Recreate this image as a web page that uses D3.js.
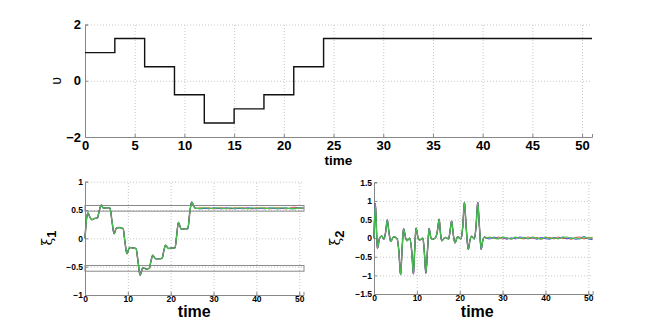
<!doctype html>
<html>
<head>
<style>
    body { margin: 0; background: #fff; }
    text { font-family: "Liberation Sans", Arial, sans-serif; }
    .tick text { font-weight: bold; fill: #000; }
    .grid line { stroke: #c8c8c8; stroke-dasharray: 1,2; }
    .grid .domain { display: none; }
</style>
<script src="https://d3js.org/d3.v7.min.js"></script>
</head>
<body>
<svg id="chart" width="654" height="332"></svg>
<script>
// control input u (step values, held until next time)
var uTime  = [0, 3, 6, 9, 12, 15, 18, 21, 24, 51];
var uValue = [1, 1.5, 0.5, -0.5, -1.5, -1, -0.5, 0.5, 1.5, 1.5];

// xi1 transient (all three runs overlap here)
var xi1Time = [0, 0.3, 0.7, 1.1, 1.6, 2.2, 2.9, 3.3, 3.8, 4.3, 5.0, 5.8, 6.3, 6.8, 7.3, 8.0, 8.9,
    9.3, 9.8, 10.4, 11.2, 11.9, 12.4, 12.85, 13.5, 14.3, 15.0, 15.4, 15.8, 16.5, 17.3, 18.0,
    18.4, 18.8, 19.5, 20.3, 21.0, 21.4, 21.8, 22.5, 23.3, 24.0, 24.4, 24.9, 25.6, 26.0];
var xi1Value = [0, 0.3, 0.45, 0.38, 0.33, 0.35, 0.36, 0.48, 0.59, 0.53, 0.54, 0.54, 0.3, 0.08, 0.18, 0.19, 0.17,
    -0.05, -0.27, -0.16, -0.17, -0.18, -0.42, -0.65, -0.52, -0.54, -0.53, -0.4, -0.3, -0.36, -0.36, -0.35,
    -0.22, -0.12, -0.18, -0.17, -0.17, 0.05, 0.28, 0.16, 0.17, 0.17, 0.42, 0.64, 0.54, 0.53];

// xi2 transient
var xi2Time = [0, 0.3, 0.8, 1.3, 1.8, 2.3, 2.7, 3.1, 3.5, 3.9, 4.6, 5.4, 5.8, 6.2, 6.6, 6.9, 7.4, 7.7,
    8.3, 8.8, 9.2, 9.5, 9.8, 10.3, 10.6, 11.4, 11.7, 12.1, 12.5, 12.85, 13.3, 13.6, 14.4, 14.8,
    15.2, 15.5, 15.8, 16.6, 17.4, 17.7, 18.1, 18.5, 18.9, 19.5, 20.3, 20.7, 21.1, 21.5, 22.0,
    22.4, 22.8, 23.4, 23.8, 24.2, 24.6, 25.0, 25.4, 25.8, 26.2];
var xi2Value = [0, 0.93, -0.27, 0.0, 0.06, -0.03, 0.15, 0.49, 0.15, -0.09, 0.04, -0.02, -0.35, -0.98, -0.2, 0.25, 0.0, -0.07,
    0.0, -0.35, -0.96, -0.3, 0.27, 0.0, -0.05, 0.0, -0.3, -0.94, -0.3, 0.26, 0.0, -0.03, 0.02, 0.2,
    0.51, 0.15, -0.07, 0.02, -0.02, 0.15, 0.46, 0.1, -0.13, 0.04, -0.02, 0.3, 0.96, 0.3, -0.3,
    -0.05, 0.05, -0.02, 0.3, 0.96, 0.3, -0.3, -0.05, 0.03, 0.0];

// steady state, per run
var steadyTime = [27, 28, 29, 30, 31, 32, 33, 34, 35, 36, 37, 38, 39, 40, 41, 42, 43, 44, 45, 46, 47, 48, 49, 50, 51];
var xi1Red   = [0.54, 0.53, 0.54, 0.52, 0.53, 0.54, 0.53, 0.52, 0.54, 0.53, 0.54, 0.53, 0.52, 0.54, 0.53, 0.54, 0.52, 0.53, 0.54, 0.53, 0.52, 0.54, 0.55, 0.53, 0.54];
var xi1Blue  = [0.52, 0.53, 0.52, 0.54, 0.53, 0.52, 0.54, 0.53, 0.52, 0.53, 0.52, 0.54, 0.53, 0.52, 0.53, 0.52, 0.54, 0.53, 0.52, 0.53, 0.54, 0.52, 0.53, 0.54, 0.53];
var xi1Green = [0.53, 0.54, 0.53, 0.53, 0.54, 0.53, 0.52, 0.54, 0.53, 0.54, 0.53, 0.52, 0.54, 0.53, 0.54, 0.53, 0.53, 0.54, 0.53, 0.54, 0.53, 0.53, 0.52, 0.54, 0.53];
var xi2Red   = [0.02, -0.01, 0.03, -0.02, 0.01, -0.03, 0.02, 0.0, -0.02, 0.03, -0.01, 0.02, -0.03, 0.01, 0.02, -0.02, 0.03, -0.01, 0.0, -0.03, 0.02, 0.03, -0.02, 0.01, -0.01];
var xi2Blue  = [-0.02, 0.03, -0.01, 0.02, -0.03, 0.01, -0.02, 0.03, 0.01, -0.02, 0.02, -0.03, 0.02, -0.01, -0.03, 0.02, -0.01, 0.03, -0.02, 0.01, -0.03, -0.01, 0.04, -0.02, -0.04];
var xi2Green = [0.03, 0.0, -0.02, 0.03, 0.01, -0.02, 0.03, -0.01, 0.02, -0.01, 0.03, 0.0, -0.02, 0.03, -0.01, 0.01, -0.02, 0.02, 0.03, -0.01, 0.01, -0.02, 0.03, 0.0, 0.02];

// bands drawn on xi1 plot
var bandLow  = [0.48, -0.58];
var bandHigh = [0.58, -0.48];

var topXTicks = [0, 5, 10, 15, 20, 25, 30, 35, 40, 45, 50];
var topYTicks = [-2, 0, 2];
var botXTicks = [0, 10, 20, 30, 40, 50];
var xi1YTicks = [-1, -0.5, 0, 0.5, 1];
var xi2YTicks = [-1.5, -1, -0.5, 0, 0.5, 1, 1.5];

var svg = d3.select("#chart");

function zip(ts, vs) {
    return ts.map(function(t, i) { return [t, vs[i]]; });
}

function panel(cfg) {
    var x = d3.scaleLinear().domain([0, 51]).range([cfg.left, cfg.right]);
    var y = d3.scaleLinear().domain(cfg.yDomain).range([cfg.bottom, cfg.top]);
    var g = svg.append("g");

    g.append("g").attr("class", "grid")
     .attr("transform", "translate(0," + cfg.bottom + ")")
     .call(d3.axisBottom(x).tickValues(cfg.xTicks.filter(function(d) { return d > 0; }))
         .tickSize(-(cfg.bottom - cfg.top)).tickFormat(""));
    g.append("g").attr("class", "grid")
     .attr("transform", "translate(" + cfg.left + ",0)")
     .call(d3.axisLeft(y).tickValues(cfg.yTicks.filter(function(d) { return d > cfg.yDomain[0]; }))
         .tickSize(-(cfg.right - cfg.left)).tickFormat(""));

    var fmt = function(d) { return d < 0 ? "\u2212" + Math.abs(d) : d; };

    var ax = g.append("g")
     .attr("transform", "translate(0," + cfg.bottom + ")")
     .call(d3.axisBottom(x).tickValues(cfg.xTicks).tickSize(-3).tickPadding(cfg.xPad).tickFormat(fmt));
    var ay = g.append("g")
     .attr("transform", "translate(" + cfg.left + ",0)")
     .call(d3.axisLeft(y).tickValues(cfg.yTicks).tickSize(-3).tickPadding(cfg.yPad).tickFormat(fmt));
    [ax, ay].forEach(function(a) {
        a.attr("font-size", cfg.tickFont).attr("font-family", null);
        a.select(".domain").attr("stroke", "#888");
        a.selectAll(".tick line").attr("stroke", "#888");
    });

    g.append("text")
     .attr("x", (cfg.left + cfg.right) / 2 + cfg.timeDx)
     .attr("y", cfg.timeY)
     .attr("text-anchor", "middle")
     .attr("font-weight", "bold")
     .attr("font-size", cfg.timeFont)
     .text("time");

    return { g: g, x: x, y: y };
}

// top panel: u
var p1 = panel({ left: 85, right: 592, top: 24.5, bottom: 137, yDomain: [-2, 2],
    xTicks: topXTicks, yTicks: topYTicks, xPad: 4, yPad: 4, tickFont: 13,
    timeDx: 0, timeY: 165, timeFont: 13.5 });

p1.g.append("path")
    .datum(zip(uTime, uValue))
    .attr("fill", "none")
    .attr("stroke", "#111")
    .attr("stroke-width", 1.4)
    .attr("d", d3.line().curve(d3.curveStepAfter)
        .x(function(d) { return p1.x(d[0]); })
        .y(function(d) { return p1.y(d[1]); }));

p1.g.append("text")
    .attr("transform", "translate(61,81) rotate(-90)")
    .attr("text-anchor", "middle")
    .attr("font-family", "DejaVu Serif")
    .attr("font-size", 14)
    .text("\u03c5");

// bottom-left: xi1
var p2 = panel({ left: 85, right: 303.5, top: 181.7, bottom: 295, yDomain: [-1, 1],
    xTicks: botXTicks, yTicks: xi1YTicks, xPad: 1, yPad: 2, tickFont: 8.5,
    timeDx: 0, timeY: 317, timeFont: 16 });

// bottom-right: xi2
var p3 = panel({ left: 374, right: 592.6, top: 182.3, bottom: 294, yDomain: [-1.5, 1.5],
    xTicks: botXTicks, yTicks: xi2YTicks, xPad: 1, yPad: 2, tickFont: 8.5,
    timeDx: -6, timeY: 317, timeFont: 16 });

bandLow.forEach(function(lo, i) {
    p2.g.append("rect")
        .attr("x", p2.x(0))
        .attr("y", p2.y(bandHigh[i]))
        .attr("width", p2.x(51) - p2.x(0) + 0.5)
        .attr("height", p2.y(lo) - p2.y(bandHigh[i]))
        .attr("fill", "none")
        .attr("stroke", "#888")
        .attr("stroke-width", 1);
});

function runs(p, tTime, tVal, red, blue, green) {
    var line = d3.line().curve(d3.curveMonotoneX)
        .x(function(d) { return p.x(d[0]); })
        .y(function(d) { return p.y(d[1]); });
    var head = zip(tTime, tVal);
    var sets = [
        { v: red, c: "#e8413a", w: 1 },
        { v: blue, c: "#4450e0", w: 1 },
        { v: green, c: "#45c445", w: 1.1 }
    ];
    // dark reference line under the runs
    p.g.append("path")
        .datum(head)
        .attr("fill", "none").attr("stroke", "#6a6a6a").attr("stroke-width", 1.5)
        .attr("d", line);
    sets.forEach(function(s) {
        p.g.append("path")
            .datum(head.concat(zip(steadyTime, s.v)))
            .attr("fill", "none").attr("stroke", s.c).attr("stroke-width", s.w)
            .attr("d", line);
    });
}

runs(p2, xi1Time, xi1Value, xi1Red, xi1Blue, xi1Green);
runs(p3, xi2Time, xi2Value, xi2Red, xi2Blue, xi2Green);

function xiLabel(x, y, sub) {
    var t = svg.append("text")
        .attr("transform", "translate(" + x + "," + y + ") rotate(-90)")
        .attr("text-anchor", "middle")
        .attr("font-size", 14);
    t.append("tspan").attr("font-family", "DejaVu Serif").text("\u03be");
    t.append("tspan").attr("dy", 4).attr("font-weight", "bold").attr("font-size", 13).text(sub);
}
xiLabel(52, 238, "1");
xiLabel(340, 238, "2");
</script>
</body>
</html>
